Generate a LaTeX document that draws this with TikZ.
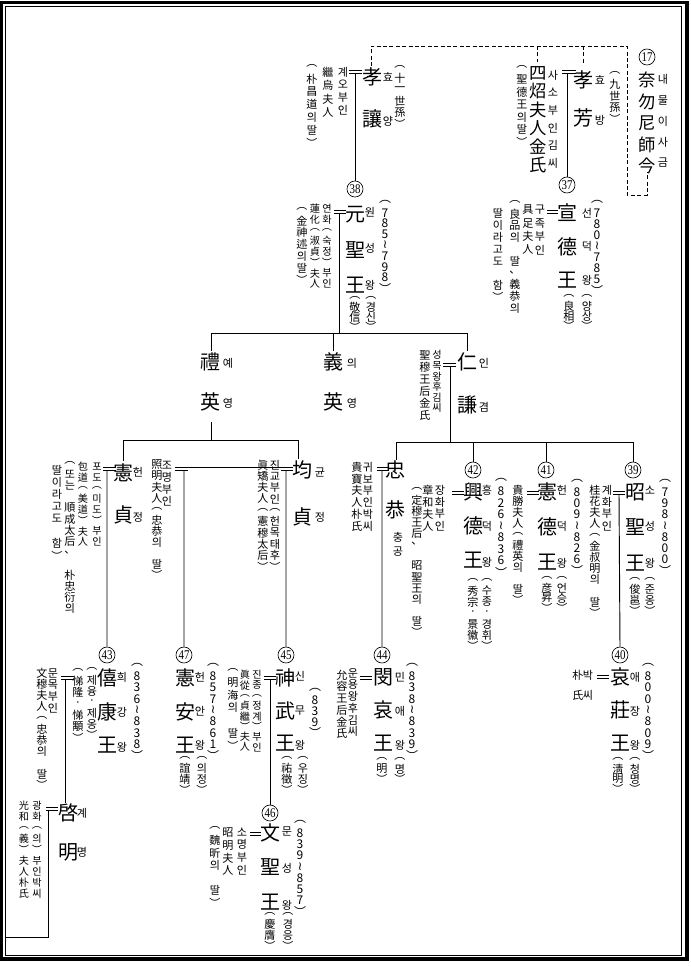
\documentclass[tikz,border=0pt]{standalone}
\usepackage{fontspec}
\usepackage{graphicx}
\newfontfamily\cjk{Noto Sans CJK KR}
\newfontfamily\numf{Liberation Serif}
\newfontfamily\dvs{DejaVu Sans}
\newdimen\upx \upx=0.75pt
\newcommand\FB{\cjk\fontsize{15}{15}\selectfont}
\newcommand\FM{\cjk\fontsize{13}{13}\selectfont}
\newcommand\FS{\cjk\fontsize{8.3}{8.3}\selectfont}
\newcommand\FT{\cjk\fontsize{7.6}{7.6}\selectfont}
\newcommand\FD{\cjk\fontsize{9}{9}\selectfont}
\newcommand\tld{{\dvs\fontsize{9}{9}\selectfont ≀}}
\newcommand\sx[1]{\scalebox{0.82}[1]{#1}}
\newcommand\numfont{\numf\fontsize{10}{10}\selectfont}
\makeatletter
\newcommand\vcol[3]{\vbox{\offinterlineskip#2\@tfor\vc@x:=#3\do{\vbox to #1\upx{\vss\hbox to 0pt{\hss\vc@x\hss}\vss}}}}
\makeatother
\newcommand\VC[6]{\node[vt] (#1) at (#2,{#3-#4/2}) {\vcol{#4}{#5}{#6}};}
\newcommand\mar[3]{\draw[tree] (#1,#3)--(#2,#3) (#1,#3+3)--(#2,#3+3);}
\tikzset{
 tree/.style={line width=0.7pt},
 dashline/.style={line width=0.7pt, dash pattern=on 3pt off 1.8pt},
 num/.style={circle, draw, line width=0.5pt, inner sep=0pt, minimum size=12pt, font=\numfont},
 vt/.style={inner sep=0pt, outer sep=0pt, anchor=north},
 frameout/.style={line width=2.4pt},
 framein/.style={line width=0.6pt}
}
\begin{document}
\begin{tikzpicture}[x=0.75pt,y=-0.75pt]
\useasboundingbox (0,0) rectangle (690,967);
\draw[frameout] (1.5,2.5) rectangle (687,959);
\draw[framein] (5.2,6.5) rectangle (681.5,955);

% ---------- top generation ----------
\node[num] (c17) at (647,57) {\sx{17}};
\VC{n17}{647}{80}{21.5}{\FM}{奈勿尼師今}
\VC{n17h}{663}{79}{21}{\FS}{내물이사금}

\VC{hf}{583}{80}{38}{\FB}{孝芳}
\VC{hfh}{600}{80}{40}{\FS}{효방}
\VC{hfs}{615}{73}{11.5}{\FS}{︵九世孫︶}
\VC{sj}{538}{73}{18.4}{\FM}{四炤夫人金氏}
\VC{sjh}{553}{75}{17.6}{\FS}{사소부인김씨}
\VC{sjp}{522}{67}{12.5}{\FS}{︵聖德王의딸︶}

\VC{hy}{372}{77}{42}{\FB}{孝讓}
\VC{hyh}{388}{77}{44}{\FS}{효양}
\VC{hys}{400}{67}{11.3}{\FS}{︵十一世孫︶}
\VC{gy1}{343}{72}{12.7}{\FS}{계오부인}
\VC{gy2}{328}{72}{13.5}{\FS}{繼烏夫人}
\VC{gy3}{312}{66}{12.8}{\FS}{︵朴昌道의딸︶}

\coordinate (d0) at (371,66);
\coordinate (d1) at (371,46);
\coordinate (d2) at (627,46);
\coordinate (d3) at (627,195);
\coordinate (d4) at (647,195);
\coordinate (d5) at (647,172);
\draw[dashline] (d0)--(d1)--(d2)--(d3)--(d4)--(d5);
\coordinate (e1) at (537,46); \coordinate (e2) at (537,62);
\coordinate (f1) at (583,46); \coordinate (f2) at (583,64);
\draw[dashline] (e1)--(e2) (f1)--(f2);

% ---------- 37 / 38 ----------
\node[num] (c37) at (567,185) {\sx{37}};
\node[num] (c38) at (355,189) {\sx{38}};
\mar{562}{576}{70.5}
\coordinate (m37) at (567,73.5);
\draw[tree] (m37)--(c37.north);
\mar{349}{362}{70.5}
\coordinate (m38) at (355,73.5);
\draw[tree] (m38)--(c38.north);

\VC{w37}{567}{213}{33.5}{\FB}{宣德王}
\VC{w37h}{587}{213}{33.5}{\FS}{선덕왕}
\VC{w37d}{597}{202}{11}{\FD}{︵780\tld785︶}
\VC{w37p}{587}{296}{10}{\FS}{︵양상︶}
\VC{w37q}{569}{296}{10}{\FS}{︵良相︶}
\VC{s37a}{540}{210}{13.3}{\FS}{구족부인}
\VC{s37b}{528}{210}{13.3}{\FS}{具足夫人}
\VC{s37c}{515}{202}{11.8}{\FS}{︵良品의{}딸、義恭의}
\VC{s37d}{498}{213}{12}{\FS}{딸이라고도{}함︶}
\mar{547}{558}{210}

\VC{w38}{355}{215}{35}{\FB}{元聖王}
\VC{w38h}{370}{212}{36.5}{\FS}{원성왕}
\VC{w38d}{385}{202}{10.8}{\FD}{︵785\tld798︶}
\VC{w38p}{371}{298}{9.5}{\FS}{︵경신︶}
\VC{w38q}{355}{298}{9.5}{\FS}{︵敬信︶}
\VC{s38a}{327}{209}{10.7}{\FT}{연화︵숙정︶부인}
\VC{s38b}{315}{209}{10.7}{\FT}{蓮化︵淑貞︶夫人}
\VC{s38c}{302}{209}{11.8}{\FS}{︵金神述의딸︶}
\mar{334}{346}{210.5}
\coordinate (m38b) at (339,213.5);
\coordinate (b38) at (339,333);
\coordinate (b38l) at (211,333);
\coordinate (b38r) at (467,333);
\coordinate (b38m) at (333,333);
\draw[tree] (m38b)--(b38);
\draw[tree] (b38l)--(b38r);

% ---------- sons of 38 ----------
\VC{ly}{210}{362}{40}{\FB}{禮英}
\VC{lyh}{228}{363}{40}{\FS}{예영}
\VC{uy}{333}{362}{40}{\FB}{義英}
\VC{uyh}{352}{363}{40}{\FS}{의영}
\VC{ig}{467}{362}{43}{\FB}{仁謙}
\VC{igh}{484}{363}{44}{\FS}{인겸}
\VC{sig1}{437}{355}{10.6}{\FT}{성목왕후김씨}
\VC{sig2}{425}{355}{12}{\FS}{聖穆王后金氏}
\coordinate (t1) at (211,351);
\coordinate (t2) at (333,351);
\coordinate (t3) at (467,351);
\draw[tree] (b38l)--(t1) (b38m)--(t2) (b38r)--(t3);

\mar{443}{456}{363}
\coordinate (mig) at (450,366);
\coordinate (big) at (450,442);
\coordinate (bigl) at (396,442);
\coordinate (bigr) at (633,442);
\coordinate (big42) at (473,442);
\coordinate (big41) at (546,442);
\draw[tree] (mig)--(big) (bigl)--(bigr);

\coordinate (ly1) at (211,422);
\coordinate (ly2) at (211,440);
\coordinate (bly) at (123,440);
\coordinate (bry) at (298,440);
\coordinate (hjt) at (123,461);
\coordinate (gjt) at (298,459);
\draw[tree] (ly1)--(ly2) (bly)--(bry) (bly)--(hjt) (bry)--(gjt);

% ---------- third row ----------
\VC{hj}{123}{473}{42}{\FB}{憲貞}
\VC{hjh}{138}{472}{45}{\FS}{헌정}
\VC{hjw1}{97}{467}{10.7}{\FT}{포도︵미도︶부인}
\VC{hjw2}{83}{467}{10.7}{\FT}{包道︵美道︶夫人}
\VC{hjw3}{70}{463}{11.2}{\FS}{︵또는{}順成太后、{}朴忠衍의}
\VC{hjw4}{57}{470}{12.2}{\FS}{딸이라고도{}함︶}
\mar{103}{116}{467}

\VC{gj}{302}{470}{47}{\FB}{均貞}
\VC{gjh}{320}{473}{44}{\FS}{균정}
\VC{gjw1}{167}{465}{12.2}{\FS}{조명부인}
\VC{gjw2}{157}{465}{11}{\FS}{照明夫人︵忠恭의{}딸︶}
\VC{gjw3}{275}{465}{11.3}{\FS}{진교부인︵헌목태후︶}
\VC{gjw4}{263}{465}{11.3}{\FS}{眞矯夫人︵憲穆太后︶}
\draw[tree] (175,467)--(293,467) (175,470)--(188,470) (281,470)--(293,470);

\VC{cg}{395}{470}{40}{\FB}{忠恭}
\VC{cgh}{398}{537}{15}{\FS}{충공}
\VC{cgw1}{368}{467}{11.8}{\FS}{귀보부인박씨}
\VC{cgw2}{357}{467}{11.8}{\FS}{貴寶夫人朴氏}
\mar{377}{389}{467}
\coordinate (cgt) at (396,460);
\draw[tree] (bigl)--(cgt);

\node[num] (c42) at (473,470) {\sx{42}};
\node[num] (c41) at (546,470) {\sx{41}};
\node[num] (c39) at (633,470) {\sx{39}};
\draw[tree] (big42)--(c42.north) (big41)--(c41.north) (bigr)--(c39.north);

\VC{w42}{473}{492}{34}{\FB}{興德王}
\VC{w42h}{487}{490}{36}{\FS}{흥덕왕}
\VC{w42d}{501}{480}{11.5}{\FD}{︵826\tld836︶}
\VC{w42p}{487}{580}{11}{\FS}{︵수종·경휘︶}
\VC{w42q}{473}{580}{11}{\FS}{︵秀宗·景徽︶}
\VC{w42a}{440}{490}{12}{\FS}{장화부인}
\VC{w42b}{428}{490}{12}{\FS}{章和夫人}
\VC{w42c}{417}{489}{11}{\FS}{︵定穆王后、{}昭聖王의{}딸︶}
\mar{452}{464}{491}

\VC{w41}{547}{492}{35}{\FB}{憲德王}
\VC{w41h}{562}{490}{36.5}{\FS}{헌덕왕}
\VC{w41d}{577}{481}{11.2}{\FD}{︵809\tld826︶}
\VC{w41p}{562}{578}{10}{\FS}{︵언승︶}
\VC{w41q}{547}{578}{10}{\FS}{︵彦昇︶}
\VC{w41a}{518}{490}{11}{\FS}{貴勝夫人︵禮英의{}딸︶}
\mar{527}{539}{491}

\VC{w39}{635}{492}{35.5}{\FB}{昭聖王}
\VC{w39h}{650}{490}{36.5}{\FS}{소성왕}
\VC{w39d}{665}{481}{11.2}{\FD}{︵798\tld800︶}
\VC{w39p}{650}{579}{10.5}{\FS}{︵준옹︶}
\VC{w39q}{635}{579}{10.5}{\FS}{︵俊邕︶}
\VC{w39a}{607}{490}{12}{\FS}{계화부인}
\VC{w39b}{595}{490}{11.2}{\FS}{桂花夫人︵金叔明의{}딸︶}
\mar{613}{625}{491}

% ---------- fourth row ----------
\node[num] (c43) at (107,655) {\sx{43}};
\node[num] (c47) at (184,655) {\sx{47}};
\node[num] (c45) at (286,655) {\sx{45}};
\node[num] (c44) at (382,655) {\sx{44}};
\node[num] (c40) at (620,655) {\sx{40}};
\coordinate (m43) at (107,470);
\coordinate (m47) at (184,470);
\coordinate (m45) at (286,470);
\coordinate (m44) at (382,470);
\coordinate (m40) at (619,494);
\draw[tree] (m43)--(c43.north) (m47)--(c47.north) (m45)--(c45.north) (m44)--(c44.north) (m40)--(c40.north);

\VC{w43}{107}{678}{33.5}{\FB}{僖康王}
\VC{w43h}{122}{677}{35}{\FS}{희강왕}
\VC{w43d}{137}{665}{11.3}{\FD}{︵836\tld838︶}
\VC{w43p}{92}{669}{11}{\FS}{︵제융·제옹︶}
\VC{w43q}{78}{670}{11.3}{\FS}{︵悌隆·悌顒︶}
\VC{w43a}{53}{673}{11.7}{\FS}{문목부인}
\VC{w43b}{42}{673}{11.2}{\FS}{文穆夫人︵忠恭의{}딸︶}
\mar{61}{74}{676}
\coordinate (m43w) at (65,679);
\coordinate (gmt) at (65,803);
\draw[tree] (m43w)--(gmt);

\VC{gm}{68}{813}{39}{\FB}{啓明}
\VC{gmh}{82}{813}{39}{\FS}{계명}
\VC{gmw1}{37}{806}{10.9}{\FT}{광화︵의︶부인박씨}
\VC{gmw2}{24}{806}{10.9}{\FT}{光和︵義︶夫人朴氏}
\mar{46}{58}{807}
\coordinate (g1) at (48,810);
\coordinate (g2) at (48,937);
\coordinate (g3) at (5.2,937);
\draw[tree] (g1)--(g2)--(g3);

\VC{w47}{185}{678}{33.5}{\FB}{憲安王}
\VC{w47h}{200}{677}{34}{\FS}{헌안왕}
\VC{w47d}{213}{665}{11.3}{\FD}{︵857\tld861︶}
\VC{w47p}{202}{758}{10.5}{\FS}{︵의정︶}
\VC{w47q}{185}{758}{10.5}{\FS}{︵誼靖︶}

\VC{w45}{285}{678}{32.5}{\FB}{神武王}
\VC{w45h}{300}{676}{34.5}{\FS}{신무왕}
\VC{w45d}{315}{690}{10.7}{\FD}{︵839︶}
\VC{w45p}{303}{758}{10.5}{\FS}{︵우징︶}
\VC{w45q}{287}{758}{10.5}{\FS}{︵祐徵︶}
\VC{w45a}{257}{675}{10.3}{\FT}{진종︵정계︶부인}
\VC{w45b}{245}{675}{10.3}{\FT}{眞從︵貞繼︶夫人}
\VC{w45c}{233}{670}{12.6}{\FS}{︵明海의{}딸︶}
\mar{264}{276}{676}
\node[num] (c46) at (270,813) {\sx{46}};
\coordinate (m46) at (270,679);
\draw[tree] (m46)--(c46.north);

\VC{w44}{383}{677}{33}{\FB}{閔哀王}
\VC{w44h}{400}{677}{34}{\FS}{민애왕}
\VC{w44d}{412}{665}{11.3}{\FD}{︵838\tld839︶}
\VC{w44p}{400}{759}{10}{\FS}{︵명︶}
\VC{w44q}{382}{759}{10}{\FS}{︵明︶}
\VC{w44a}{353}{673}{11.7}{\FS}{운용왕후김씨}
\VC{w44b}{342}{675}{11.7}{\FS}{允容王后金氏}
\mar{360}{372}{676}

\VC{w40}{620}{677}{33}{\FB}{哀莊王}
\VC{w40h}{635}{677}{34}{\FS}{애장왕}
\VC{w40d}{648}{665}{11.3}{\FD}{︵800\tld809︶}
\VC{w40p}{635}{759}{10}{\FS}{︵청명︶}
\VC{w40q}{618}{759}{10}{\FS}{︵淸明︶}
\VC{w40a}{588}{675}{20}{\FS}{박씨}
\VC{w40b}{578}{675}{20}{\FS}{朴氏}
\mar{597}{609}{675}

\VC{w46}{270}{833}{34.5}{\FB}{文聖王}
\VC{w46h}{287}{831}{37}{\FS}{문성왕}
\VC{w46d}{300}{822}{11.2}{\FD}{︵839\tld857︶}
\VC{w46p}{288}{914}{10.5}{\FS}{︵경응︶}
\VC{w46q}{270}{914}{10.5}{\FS}{︵慶膺︶}
\VC{w46a}{242}{832}{12.7}{\FS}{소명부인}
\VC{w46b}{228}{833}{12.5}{\FS}{昭明夫人}
\VC{w46c}{215}{828}{12.4}{\FS}{︵魏昕의{}딸︶}
\mar{250}{261}{832}
\end{tikzpicture}
\end{document}
